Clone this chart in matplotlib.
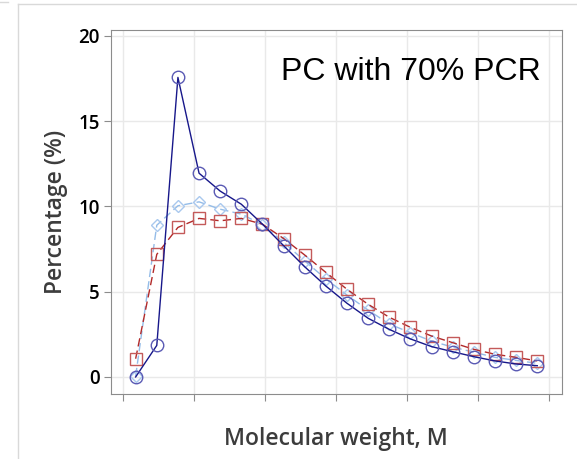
import numpy as np
import matplotlib
matplotlib.use("Agg")
import matplotlib.pyplot as plt
from matplotlib.lines import Line2D

# molecular weight slices (index along the log-M axis, no labels shown)
slices = np.arange(20)

# percentage per slice, three samples
pct_circle = [0.0, 1.85, 17.57, 11.95, 10.9, 10.13, 8.96, 7.7, 6.46, 5.33,
              4.32, 3.44, 2.79, 2.23, 1.78, 1.48, 1.19, 0.94, 0.76, 0.66]
pct_square = [1.07, 7.19, 8.77, 9.30, 9.16, 9.30, 8.96, 8.12, 7.15, 6.13,
              5.14, 4.26, 3.50, 2.91, 2.40, 2.01, 1.62, 1.33, 1.15, 0.94]
pct_diamond = [0.05, 8.9, 10.04, 10.27, 9.84, 9.55, 8.93, 7.9, 6.8, 5.75,
               4.8, 3.92, 3.1, 2.6, 2.1, 1.75, 1.45, 1.15, 0.97, 0.8]

y_ticks = [0, 5, 10, 15, 20]
x_ticks = [-0.59, 2.77, 6.12, 9.48, 12.83, 16.19, 19.54]

fig = plt.figure(figsize=(5.77, 4.59), dpi=100)
ax = fig.add_axes([110.7 / 577, 1 - 394 / 459, (562 - 110.7) / 577, (394 - 30) / 459])

# light frame around the figure
fig.add_artist(Line2D([18 / 577, 18 / 577], [0, 1 - 4 / 459], transform=fig.transFigure,
                      color="#d9d9d9", lw=1))
fig.add_artist(Line2D([18 / 577, 1], [1 - 4 / 459, 1 - 4 / 459], transform=fig.transFigure,
                      color="#d9d9d9", lw=1))
fig.add_artist(Line2D([0, 8 / 577], [1 - 2 / 459, 1 - 2 / 459], transform=fig.transFigure,
                      color="#d9d9d9", lw=1))

ax.plot(slices, pct_diamond, color="#94bce8", lw=1, ls=(0, (6, 3)), marker="D", ms=6,
        mfc="none", mec="#a9c8ee", mew=1, zorder=3)
ax.plot(slices, pct_square, color="#b22a2a", lw=1, ls=(0, (6, 3)), marker="s", ms=8,
        mfc="none", mec="#c45a5a", mew=1, zorder=4)
ax.plot(slices, pct_circle, color="#17178a", lw=1, marker="o", ms=9,
        mfc="none", mec="#5a5ab4", mew=1, zorder=5)

ax.set_xlim(-1.18, 20.17)
ax.set_ylim(-1.0, 20.35)
ax.set_xticks(x_ticks)
ax.set_xticklabels([])
ax.set_yticks(y_ticks)
ax.set_yticklabels([str(v) for v in y_ticks], fontsize=13.5, fontweight="semibold",
                   family="Open Sans")
ax.grid(True, color="#e9e9e9", lw=1)
ax.set_axisbelow(True)
for s in ax.spines.values():
    s.set_color("#8c8c8c")
ax.tick_params(axis="both", direction="out", length=5, color="#8c8c8c", pad=3)

ax.set_ylabel("Percentage (%)", fontsize=16.5, color="#3c3c3c", family="Open Sans",
              fontweight="semibold", labelpad=7)
ax.set_xlabel("Molecular weight, M", fontsize=16.5, color="#3c3c3c", family="Open Sans",
              fontweight="semibold", labelpad=16)

ax.text(0.954, 0.863, "PC with 70% PCR", transform=ax.transAxes, ha="right", va="baseline",
        fontsize=23, family="Liberation Sans", color="black")

fig.savefig("out.png", dpi=100)
